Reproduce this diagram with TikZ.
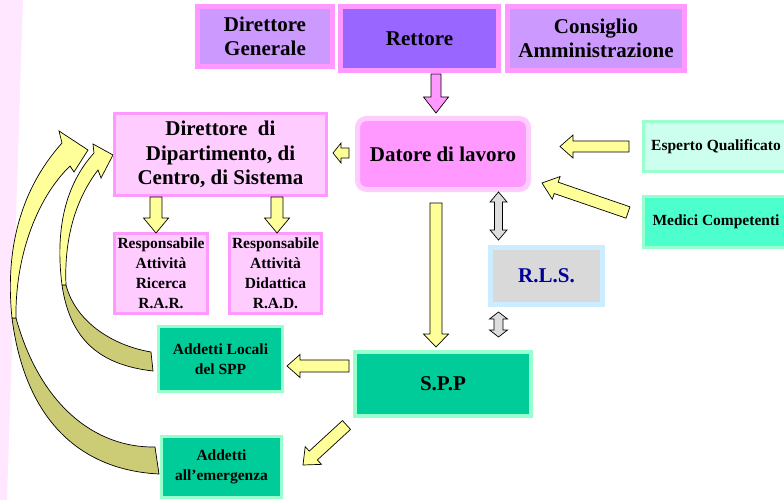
\documentclass[tikz,border=0pt]{standalone}
\usepackage{fontspec}
\setmainfont{Liberation Serif}
\usetikzlibrary{calc}
\definecolor{pinkB}{HTML}{FF99FF}
\definecolor{pinkL}{HTML}{FFCCFF}
\definecolor{lilacF}{HTML}{CC99FF}
\definecolor{violetF}{HTML}{9966FF}
\definecolor{mintL}{HTML}{CCFFEE}
\definecolor{mintB}{HTML}{99FFCC}
\definecolor{mintM}{HTML}{4CFFCC}
\definecolor{seaG}{HTML}{00CC99}
\definecolor{rlsB}{HTML}{CCECFF}
\definecolor{rlsF}{HTML}{D9D9D9}
\definecolor{navyT}{HTML}{000099}
\definecolor{yelA}{HTML}{FFFF99}
\definecolor{oliveA}{HTML}{CCCC77}
\definecolor{stripC}{HTML}{FFE8FF}
\definecolor{greyA}{HTML}{DDDDDD}
\tikzset{
  box/.style={inner sep=0pt, align=center, font=\bfseries\fontsize{21}{24.5}\selectfont},
  smalltext/.style={font=\bfseries\fontsize{15.5}{20}\selectfont},
  arrline/.style={draw=black, line width=0.7pt, line join=miter}
}
% #1 start, #2 end, #3 half shaft, #4 half head, #5 head length, #6 fill
\newcommand\blockarr[6]{%
  \coordinate (hb) at ($(#2)!#5!(#1)$);
  \draw[arrline, fill=#6]
    ($(#1)!#3!90:(#2)$) -- ($(hb)!#3!90:(#2)$) -- ($(hb)!#4!90:(#2)$) -- (#2)
    -- ($(hb)!#4!-90:(#2)$) -- ($(hb)!#3!-90:(#2)$) -- ($(#1)!#3!-90:(#2)$) -- cycle;
}
\newcommand\dblarr[6]{%
  \coordinate (hba) at ($(#1)!#5!(#2)$);
  \coordinate (hbb) at ($(#2)!#5!(#1)$);
  \draw[arrline, fill=#6]
    (#1) -- ($(hba)!#4!90:(#2)$) -- ($(hba)!#3!90:(#2)$) -- ($(hbb)!#3!90:(#2)$)
    -- ($(hbb)!#4!90:(#2)$) -- (#2) -- ($(hbb)!#4!-90:(#2)$) -- ($(hbb)!#3!-90:(#2)$)
    -- ($(hba)!#3!-90:(#2)$) -- ($(hba)!#4!-90:(#2)$) -- cycle;
}
\begin{document}
\begin{tikzpicture}[x=1pt, y=-1pt]
\useasboundingbox (0,0) rectangle (784,500);
\fill[white] (0,0) rectangle (784,500);
\fill[stripC] (0,0) -- (23,0) -- (7,500) -- (0,500) -- cycle;

% curved arrows (outer)
\draw[arrline, fill=oliveA] (12,318) .. controls (25,420) and (80,470) .. (159,474)
  -- (155,447) .. controls (95,448) and (40,405) .. (16,318) -- cycle;
\draw[arrline, fill=yelA] (12,318) .. controls (5,250) and (20,190) .. (62,143)
  -- (59,131) -- (88,150) -- (74,172) -- (70,166)
  .. controls (35,200) and (15,260) .. (16,318) -- cycle;
% curved arrow (inner)
\draw[arrline, fill=oliveA] (62,285) .. controls (70,340) and (100,365) .. (153,371)
  -- (151,352) .. controls (110,345) and (75,320) .. (66,285) -- cycle;
\draw[arrline, fill=yelA] (62,285) .. controls (55,230) and (65,185) .. (94,153)
  -- (93,144) -- (113,155) -- (101,178) -- (98,170)
  .. controls (75,200) and (64,240) .. (66,285) -- cycle;

% nodes
\node[box, fill=lilacF, draw=pinkB, line width=5pt, minimum width=135pt, minimum height=60pt] (dg) at (265,36.5) {Direttore\\Generale};
\node[box, fill=violetF, draw=pinkB, line width=5pt, minimum width=158pt, minimum height=64pt] (ret) at (419.5,38.5) {Rettore};
\node[box, fill=lilacF, draw=pinkB, line width=5pt, minimum width=177pt, minimum height=64pt] (cda) at (596,38.5) {Consiglio\\Amministrazione};
\node[box, fill=pinkB, draw=pinkL, line width=5pt, rounded corners=9pt, minimum width=171pt, minimum height=71pt] (dl) at (443,154) {Datore di lavoro};
\node[box, fill=pinkL, draw=pinkB, line width=3pt, minimum width=212pt, minimum height=82pt] (dd) at (220.5,154.5) {Direttore\ \ di\\Dipartimento, di\\Centro, di Sistema};
\node[box, smalltext, fill=pinkL, draw=pinkB, line width=3pt, minimum width=93pt, minimum height=80pt] (rar) at (161,273.5) {Responsabile\\Attività\\Ricerca\\R.A.R.};
\node[box, smalltext, fill=pinkL, draw=pinkB, line width=3pt, minimum width=92pt, minimum height=80pt] (rad) at (275.5,273.5) {Responsabile\\Attività\\Didattica\\R.A.D.};
\node[box, smalltext, fill=mintL, draw=mintB, line width=3pt, minimum width=145pt, minimum height=50pt] (esp) at (716,146.5) {Esperto Qualificato};
\node[box, smalltext, fill=mintM, draw=mintB, line width=3pt, minimum width=145pt, minimum height=51pt] (med) at (716,222) {Medici Competenti};
\node[box, fill=rlsF, draw=rlsB, line width=5pt, text=navyT, minimum width=112pt, minimum height=57pt] (rls) at (546.5,276) {R.L.S.};
\node[box, fill=seaG, draw=mintB, line width=4pt, minimum width=176pt, minimum height=64pt] (spp) at (443,384) {S.P.P};
\node[box, smalltext, fill=seaG, draw=mintB, line width=3pt, minimum width=124pt, minimum height=65pt] (al) at (220.5,359) {Addetti Locali\\del SPP};
\node[box, smalltext, fill=seaG, draw=mintB, line width=3pt, minimum width=120pt, minimum height=61pt] (ae) at (221.5,467) {Addetti\\all’emergenza};

% arrow end points
\coordinate (a1s) at (436,74);   \coordinate (a1e) at (436,113);
\coordinate (a2s) at (349,153);  \coordinate (a2e) at (333,153);
\coordinate (a3s) at (156,197);  \coordinate (a3e) at (156,233);
\coordinate (a4s) at (277,197);  \coordinate (a4e) at (277,233);
\coordinate (a5s) at (436,203);  \coordinate (a5e) at (436,347);
\coordinate (a6s) at (629,146.5);\coordinate (a6e) at (560,146.5);
\coordinate (a7s) at (628,212.5);\coordinate (a7e) at (542,183);
\coordinate (a8s) at (349,366);  \coordinate (a8e) at (287,366);
\coordinate (a9s) at (346.5,425);\coordinate (a9e) at (303,465);
\coordinate (d1s) at (498.5,192);\coordinate (d1e) at (498.5,240);
\coordinate (d2s) at (498.5,312);\coordinate (d2e) at (498.5,337);

\blockarr{a1s}{a1e}{5pt}{12.5pt}{16pt}{pinkB}
\blockarr{a2s}{a2e}{5pt}{10pt}{8pt}{yelA}
\blockarr{a3s}{a3e}{6pt}{12.5pt}{15pt}{yelA}
\blockarr{a4s}{a4e}{6pt}{12.5pt}{15pt}{yelA}
\blockarr{a5s}{a5e}{6pt}{12.5pt}{13pt}{yelA}
\blockarr{a6s}{a6e}{5.5pt}{11.5pt}{13pt}{yelA}
\blockarr{a7s}{a7e}{6pt}{12pt}{15pt}{yelA}
\blockarr{a8s}{a8e}{6pt}{11.5pt}{13pt}{yelA}
\blockarr{a9s}{a9e}{6pt}{12pt}{14pt}{yelA}
\dblarr{d1s}{d1e}{4pt}{8.5pt}{10pt}{greyA}
\dblarr{d2s}{d2e}{4.5pt}{9pt}{7pt}{greyA}
\end{tikzpicture}
\end{document}
